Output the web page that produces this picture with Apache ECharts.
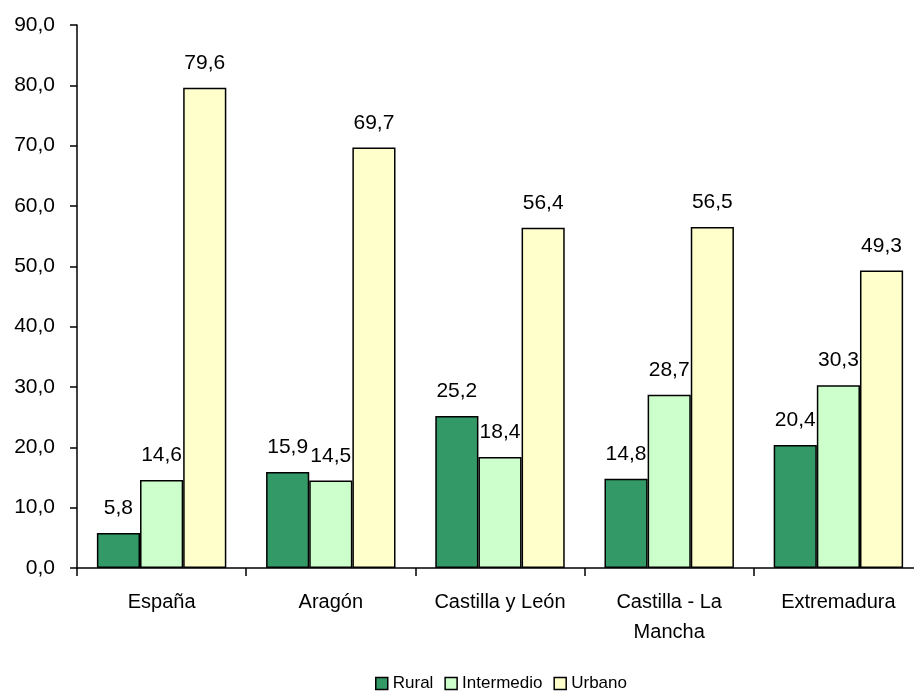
<!DOCTYPE html>
<html><head><meta charset="utf-8">
<script src="https://cdn.jsdelivr.net/npm/echarts@6/dist/echarts.min.js"></script>
<style>html,body{margin:0;padding:0;background:#fff}#c{width:914px;height:692px}</style>
</head><body><div id="c"></div>
<script>
const categories = ['España', 'Aragón', 'Castilla y León', 'Castilla - La\nMancha', 'Extremadura'];
const rural = [5.8, 15.9, 25.2, 14.8, 20.4];
const intermedio = [14.6, 14.5, 18.4, 28.7, 30.3];
const urbano = [79.6, 69.7, 56.4, 56.5, 49.3];
const seriesNames = ['Rural', 'Intermedio', 'Urbano'];
const colors = ['#339966', '#CCFFCC', '#FFFFCC'];

const FONT = 'Liberation Sans';
const fmt = v => v.toFixed(1).replace('.', ',');
const chart = echarts.init(document.getElementById('c'));
const mk = (name, data, color) => ({
  name, type: 'bar', data,
  barGap: '0%', barCategoryGap: '23.5%',
  itemStyle: { color, borderColor: '#000', borderWidth: 1.5 },
  label: { show: true, position: 'top', distance: 14, color: '#000', fontFamily: FONT, fontSize: 21,
    formatter: p => fmt(p.value) }
});
chart.setOption({
  animation: false,
  textStyle: { fontFamily: FONT },
  grid: { left: 77, top: 25, bottom: 124, width: 846, containLabel: false, outerBoundsMode: 'none' },
  legend: {
    top: 675, left: 375, padding: 0, itemWidth: 12, itemHeight: 12, itemGap: 11,
    icon: 'rect',
    textStyle: { fontFamily: FONT, fontSize: 17, color: '#000' },
    itemStyle: { borderColor: '#000', borderWidth: 1.5 },
    data: seriesNames
  },
  xAxis: {
    type: 'category', data: categories,
    axisLine: { lineStyle: { color: '#000', width: 1.5 } },
    axisTick: { show: true, length: 8, lineStyle: { color: '#000', width: 1.5 } },
    axisLabel: { color: '#000', fontFamily: FONT, fontSize: 20, margin: 19, lineHeight: 30, interval: 0 }
  },
  yAxis: {
    type: 'value', min: 0, max: 90, interval: 10,
    splitLine: { show: false },
    axisLine: { show: true, lineStyle: { color: '#000', width: 1.5 } },
    axisTick: { show: true, length: 7, lineStyle: { color: '#000', width: 1.5 } },
    axisLabel: { color: '#000', fontFamily: FONT, fontSize: 21, margin: 22, formatter: v => fmt(v) }
  },
  series: [mk(seriesNames[0], rural, colors[0]), mk(seriesNames[1], intermedio, colors[1]), mk(seriesNames[2], urbano, colors[2])]
});
</script></body></html>
